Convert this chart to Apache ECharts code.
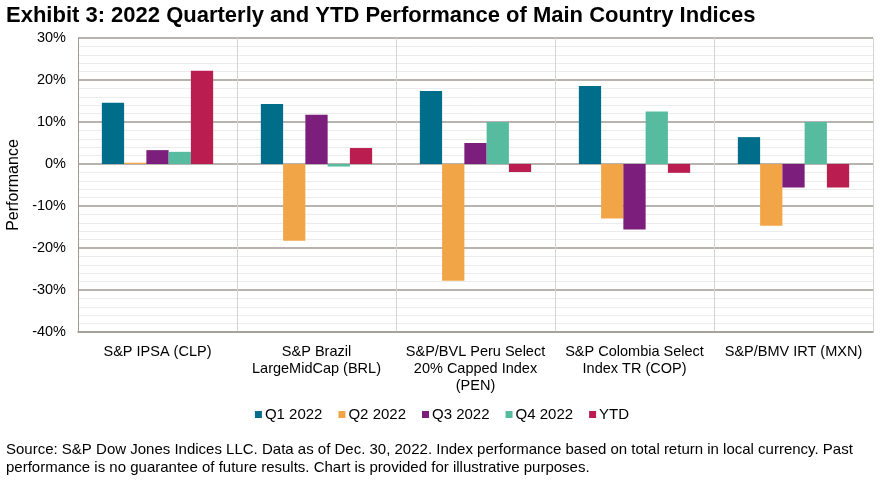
<!DOCTYPE html>
<html>
<head>
<meta charset="utf-8">
<script src="https://cdn.jsdelivr.net/npm/echarts@6/dist/echarts.min.js"></script>
<style>
html,body{margin:0;padding:0;background:#fff;}
#c{width:884px;height:484px;}
</style>
</head>
<body>
<div id="c"></div>
<script>
const categories = [
  'S&P IPSA (CLP)',
  'S&P Brazil\nLargeMidCap (BRL)',
  'S&P/BVL Peru Select\n20% Capped Index\n(PEN)',
  'S&P Colombia Select\nIndex TR (COP)',
  'S&P/BMV IRT (MXN)'
];
const seriesNames = ['Q1 2022', 'Q2 2022', 'Q3 2022', 'Q4 2022', 'YTD'];
const q1 = [14.6, 14.3, 17.4, 18.6, 6.4];
const q2 = [0.3, -18.3, -27.8, -13.0, -14.7];
const q3 = [3.3, 11.7, 5.0, -15.6, -5.6];
const q4 = [2.9, -0.6, 10.0, 12.5, 10.0];
const ytd = [22.2, 3.8, -1.9, -2.1, -5.6];
const yTicks = { min: -40, max: 30, interval: 10 };
const colors = ['#006D8A', '#F2A546', '#7B1E7C', '#57BB9F', '#BA1E50'];

const font = 'Liberation Sans, Arial, sans-serif';
const allData = [q1, q2, q3, q4, ytd];

const chart = echarts.init(document.getElementById('c'));
chart.setOption({
  animation: false,
  backgroundColor: '#fff',
  color: colors,
  textStyle: { fontFamily: font },
  title: [
    {
      text: 'Exhibit 3: 2022 Quarterly and YTD Performance of Main Country Indices',
      left: 6, top: 5, padding: 0,
      textStyle: { fontFamily: font, fontSize: 22, fontWeight: 'bold', color: '#000' }
    },
    {
      text: 'Source: S&P Dow Jones Indices LLC. Data as of Dec. 30, 2022. Index performance based on total return in local currency. Past\nperformance is no guarantee of future results. Chart is provided for illustrative purposes.',
      left: 6, top: 441, padding: 0,
      textStyle: { fontFamily: font, fontSize: 15, fontWeight: 'normal', color: '#000', lineHeight: 18 }
    }
  ],
  legend: {
    data: seriesNames,
    top: 402,
    left: 'center',
    icon: 'rect',
    itemWidth: 7,
    itemHeight: 7,
    itemGap: 16,
    textStyle: { fontFamily: font, fontSize: 15, color: '#000', padding: [0, 0, 0, -2] }
  },
  grid: { left: 78, right: 11, top: 38, bottom: 152, containLabel: false, outerBoundsMode: 'none' },
  xAxis: {
    type: 'category',
    data: categories,
    axisLine: { show: true, onZero: false, lineStyle: { color: '#a09a93', width: 1.5 } },
    axisTick: { show: false },
    splitLine: { show: true, lineStyle: { color: '#d4d4d4', width: 1 } },
    axisLabel: { fontFamily: font, fontSize: 14.5, color: '#000', lineHeight: 17, margin: 11, interval: 0 }
  },
  yAxis: {
    type: 'value',
    min: yTicks.min, max: yTicks.max, interval: yTicks.interval,
    name: 'Performance',
    nameLocation: 'middle',
    nameGap: 50,
    nameTextStyle: { fontFamily: font, fontSize: 16, color: '#000' },
    axisLine: { show: true, lineStyle: { color: '#a09a93', width: 1 } },
    axisTick: { show: false },
    axisLabel: { fontFamily: font, fontSize: 14.5, color: '#000', margin: 12, formatter: '{value}%' },
    splitLine: { show: true, lineStyle: { color: '#a09a93', width: 1.5 } },
    minorTick: { show: false, splitNumber: 5 },
    minorSplitLine: { show: true, lineStyle: { color: '#ececec', width: 1 } }
  },
  series: seriesNames.map((n, i) => ({
    name: n,
    type: 'bar',
    data: allData[i],
    barGap: '0%',
    barCategoryGap: '30%',
    itemStyle: { color: colors[i] }
  }))
});
</script>
</body>
</html>
